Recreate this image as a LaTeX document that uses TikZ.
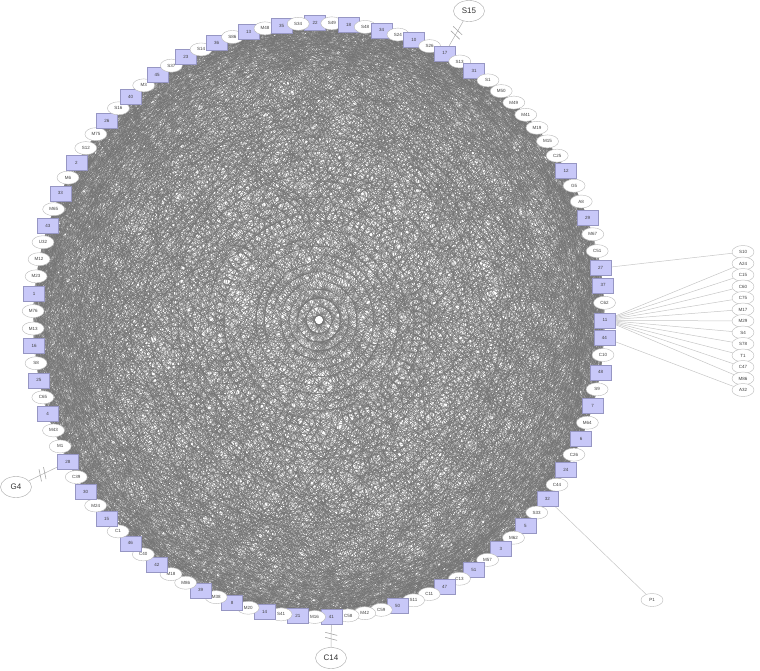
\documentclass[tikz,border=0pt]{standalone}
\usepackage{fontspec}
\setmainfont{Liberation Sans}
\usetikzlibrary{positioning,shapes.geometric,backgrounds,decorations.markings}

\definecolor{genefill}{RGB}{200,200,248}
\definecolor{genedraw}{RGB}{150,150,195}

\tikzset{
    gene/.style={rectangle, draw=genedraw, fill=genefill, minimum width=21pt, minimum height=15pt, inner sep=0pt, text=black!75, font=\fontsize{4.5}{5}\selectfont},
    drug/.style={ellipse, draw=gray!55, fill=white, minimum width=22pt, minimum height=13pt, inner sep=0pt, text=black!75, font=\fontsize{4.5}{5}\selectfont},
    bigdrug/.style={ellipse, draw=gray!70, fill=white, minimum width=31pt, minimum height=21pt, inner sep=0pt, text=black!80, font=\fontsize{8}{9}\selectfont},
    mesh/.style={black!55, line width=0.25pt},
    spoke/.style={gray!45, line width=0.5pt},
    broken/.style={gray!60, line width=0.5pt, postaction={decorate}, decoration={markings, mark=at position 0.5 with {\draw[gray!70, line width=0.6pt] (-3.5pt,-6pt) -- (-0.5pt,6pt) (1.5pt,-6pt) -- (4.5pt,6pt);}}}
}

\begin{document}
\begin{tikzpicture}[x=1pt, y=-1pt]
    \useasboundingbox (0,0) rectangle (760,670);
    % ring of genes and drugs
    \foreach \lab/\kind [count=\i from 0] in {22/gene, S49/drug, 18/gene, S48/drug, 34/gene, S24/drug, 10/gene, S26/drug, 17/gene, S13/drug, 31/gene, S1/drug, M50/drug, M49/drug, M41/drug, M19/drug, M15/drug, C25/drug, 12/gene, G5/drug, A8/drug, 29/gene, M67/drug, C51/drug, 27/gene, 37/gene, C62/drug, 11/gene, 44/gene, C10/drug, 48/gene, S9/drug, 7/gene, M64/drug, 6/gene, C26/drug, 24/gene, C44/drug, 32/gene, S33/drug, 5/gene, M62/drug, 3/gene, M57/drug, 51/gene, C13/drug, 47/gene, C11/drug, S11/drug, 50/gene, C59/drug, M42/drug, C58/drug, 41/gene, M16/drug, 21/gene, S41/drug, 14/gene, M20/drug, 8/gene, M38/drug, 39/gene, M86/drug, M18/drug, 42/gene, C40/drug, 46/gene, C1/drug, 15/gene, M24/drug, 30/gene, C39/drug, 28/gene, M1/drug, M43/drug, 4/gene, C65/drug, 25/gene, S8/drug, 16/gene, M13/drug, M76/drug, 1/gene, M23/drug, M12/drug, U32/drug, 43/gene, M65/drug, 33/gene, M6/drug, 2/gene, S12/drug, M75/drug, 26/gene, S16/drug, 40/gene, M3/drug, 45/gene, S37/drug, 23/gene, S14/drug, 36/gene, S86/drug, 13/gene, M48/drug, 35/gene, S34/drug} {
        \pgfmathsetmacro\ang{-0.8+\i*3.36449}
        \node[\kind] (n\i) at ({319+286*sin(\ang)}, {320-297*cos(\ang)}) {\lab};
    }
    % drugs outside the ring
    \foreach \lab [count=\k from 0] in {S10,A24,C15,C60,C75,M17,M29,S4,S78,T1,C47,M86,A32}
        \node[drug] (r\k) at (743, {252+11.5*\k}) {\lab};
    \node[drug] (p1) at (652,600) {P1};
    \node[bigdrug] (s15) at (469,11) {S15};
    \node[bigdrug] (g4) at (16,487) {G4};
    \node[bigdrug] (c14) at (331,658) {C14};

    \begin{scope}[on background layer]
        \pgfmathsetseed{2718}
        \foreach \i in {0,...,105} {
            \pgfmathtruncatemacro\nxt{\i+1}
            \foreach \j in {\nxt,...,106} {
                \pgfmathrandominteger{\pick}{1}{100}
                \ifnum\pick<51 \draw[mesh] (n\i) -- (n\j);\fi
            }
        }
        \draw[spoke] (n24) -- (r0);
        \foreach \k in {1,...,11} \draw[spoke] (n27) -- (r\k);
        \draw[spoke] (n28) -- (r12);
        \draw[spoke] (n38) -- (p1);
        \draw[broken] (n8) -- (s15);
        \draw[broken] (n72) -- (g4);
        \draw[broken] (n53) -- (c14);
    \end{scope}
\end{tikzpicture}
\end{document}
